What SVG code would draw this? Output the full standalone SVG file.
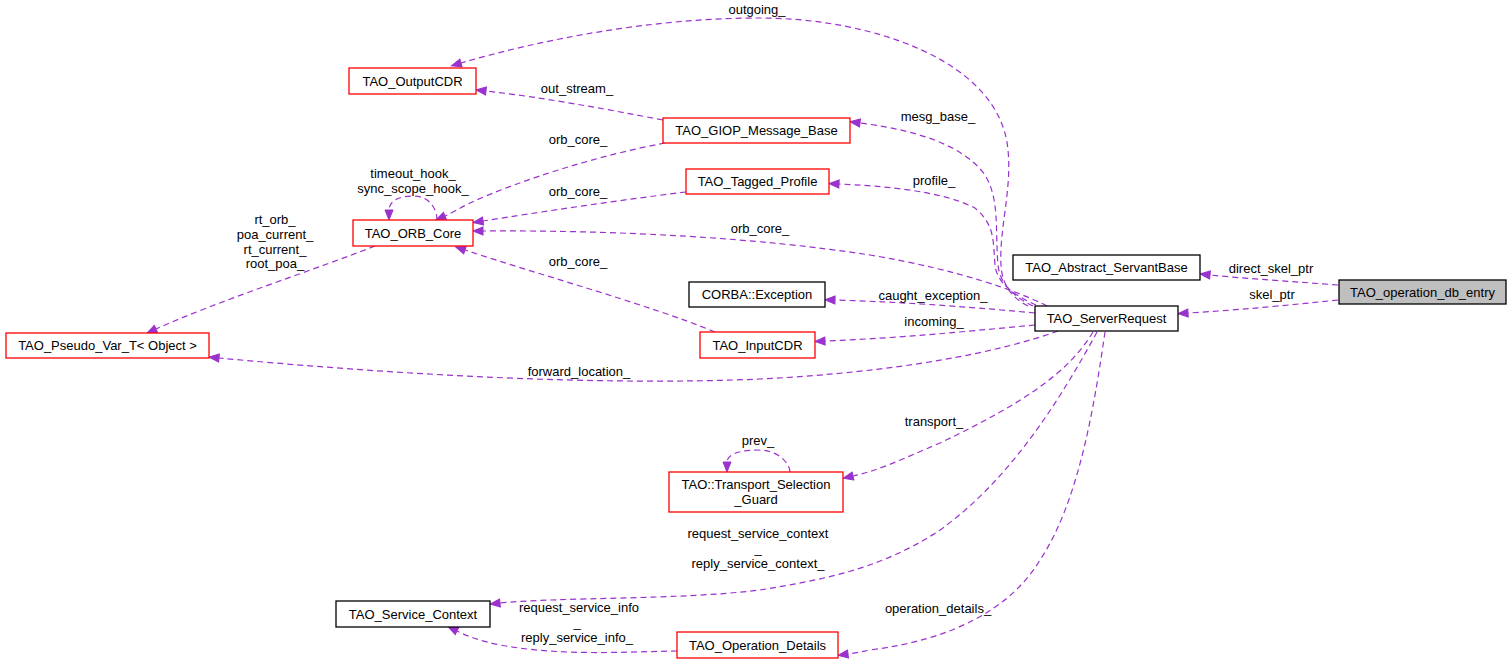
<svg xmlns="http://www.w3.org/2000/svg" width="1512" height="664" viewBox="0 0 1512 664">
<style>
text{font-family:"Liberation Sans",Arial,sans-serif;font-size:13px;fill:#000;text-anchor:middle}
.n rect{fill:#fff;stroke-width:1.3}
.red rect{stroke:#ff0000}
.blk rect{stroke:#000}
.cur rect{fill:#bfbfbf;stroke:#000}
.e path{fill:none;stroke:#9a32cd;stroke-width:1.2;stroke-dasharray:6,4;marker-end:url(#ah)}
</style>
<defs>
<marker id="ah" markerUnits="userSpaceOnUse" markerWidth="12" markerHeight="10" refX="0" refY="4" orient="auto" overflow="visible">
<path d="M0,0 L10,4 L0,8 z" fill="#9a32cd" stroke="#9a32cd" stroke-width="1"/>
</marker>
</defs>
<rect width="1512" height="664" fill="#fff"/>
<g id="edges" class="e">
<path d="M1028,306 C1012,298 1002,285 1001,265 C999,230 1012,190 1008,150 C1000,60 870,18 760,18 C650,18 540,40 461,63"/>
<path d="M1033,306 C1015,297 1000,285 998,265 C995,230 1000,200 985,175 C960,140 900,128 860,123"/>
<path d="M1036,305 C1018,297 997,285 995,265 C993,240 995,225 975,208 C940,190 880,186 839,184"/>
<path d="M1047,306 C1020,292 960,270 870,255 C760,238 620,230 483,231"/>
<path d="M1035,313 C960,306 900,302 835,300"/>
<path d="M1035,325 C960,332 900,338 825,341"/>
<path d="M1058,331 C1000,352 900,372 760,379 C600,386 400,375 219,358"/>
<path d="M1093,332 C1070,370 1030,400 940,443 C900,460 880,470 853,476"/>
<path d="M1097,332 C1060,400 1010,480 940,530 C880,570 820,580 760,590 C680,600 560,597 500,603"/>
<path d="M1105,332 C1095,400 1080,500 1040,560 C1010,610 950,640 870,650 C860,652 856,653 848,654"/>
<path d="M663,120 C600,108 540,97 486,91"/>
<path d="M665,143 C600,155 520,180 470,203 C458,209 452,213 445,216"/>
<path d="M686,192 C620,200 540,212 483,221"/>
<path d="M715,332 C650,305 540,275 465,250"/>
<path d="M437,220 C437,212 432,196 413,196 C396,196 389,203 389,210"/>
<path d="M790,472 C790,465 780,450 758,450 C738,450 727,455 727,462"/>
<path d="M375,246 C320,268 220,300 156,329"/>
<path d="M677,651 C620,652 560,656 500,645 C480,641 467,636 457,631"/>
<path d="M1338,285 C1300,282 1250,279 1210,275"/>
<path d="M1338,300 C1290,305 1240,310 1188,313"/>
</g>
<g id="edge-labels">
<text x="757" y="13.5">outgoing_</text>
<text x="577" y="93">out_stream_</text>
<text x="938" y="120.5">mesg_base_</text>
<text x="578" y="144">orb_core_</text>
<text x="578" y="195.5">orb_core_</text>
<text x="934" y="184.5">profile_</text>
<text x="413" y="177.5">timeout_hook_</text>
<text x="413" y="192.5">sync_scope_hook_</text>
<text x="275" y="224">rt_orb_</text>
<text x="275" y="239">poa_current_</text>
<text x="275" y="253.5">rt_current_</text>
<text x="275" y="268">root_poa_</text>
<text x="760" y="232.5">orb_core_</text>
<text x="578" y="265.5">orb_core_</text>
<text x="1271" y="272.5">direct_skel_ptr</text>
<text x="1272" y="298.5">skel_ptr</text>
<text x="933" y="299.5">caught_exception_</text>
<text x="934" y="325.5">incoming_</text>
<text x="579" y="375.5">forward_location_</text>
<text x="758" y="444.5">prev_</text>
<text x="934" y="425.5">transport_</text>
<text x="758" y="537.5">request_service_context</text>
<text x="758" y="552.5">_</text>
<text x="758" y="567.5">reply_service_context_</text>
<text x="579" y="611.5">request_service_info</text>
<text x="577" y="626.5">_</text>
<text x="577" y="641.5">reply_service_info_</text>
<text x="938" y="612.5">operation_details_</text>
</g>
<g id="TAO_OutputCDR" class="n red"><rect x="349" y="68" width="127" height="26"/><text x="412.5" y="85.5">TAO_OutputCDR</text></g>
<g id="TAO_GIOP_Message_Base" class="n red"><rect x="663" y="118" width="187" height="25"/><text x="756.5" y="135">TAO_GIOP_Message_Base</text></g>
<g id="TAO_Tagged_Profile" class="n red"><rect x="686" y="169" width="143" height="25"/><text x="757.5" y="186">TAO_Tagged_Profile</text></g>
<g id="TAO_ORB_Core" class="n red"><rect x="353" y="220" width="120" height="26"/><text x="413" y="237.5">TAO_ORB_Core</text></g>
<g id="TAO_Pseudo_Var_T" class="n red"><rect x="6" y="333" width="203" height="25"/><text x="107.5" y="350">TAO_Pseudo_Var_T&lt; Object &gt;</text></g>
<g id="CORBA_Exception" class="n blk"><rect x="689" y="282" width="136" height="25"/><text x="757" y="299">CORBA::Exception</text></g>
<g id="TAO_InputCDR" class="n red"><rect x="700" y="332" width="115" height="26"/><text x="757.5" y="349.5">TAO_InputCDR</text></g>
<g id="TAO_Abstract_ServantBase" class="n blk"><rect x="1013" y="255" width="187" height="25"/><text x="1106.5" y="272">TAO_Abstract_ServantBase</text></g>
<g id="TAO_ServerRequest" class="n blk"><rect x="1035" y="306" width="143" height="25"/><text x="1106.5" y="323">TAO_ServerRequest</text></g>
<g id="TAO_operation_db_entry" class="n cur"><rect x="1339" y="280" width="167" height="24"/><text x="1422.5" y="296.5">TAO_operation_db_entry</text></g>
<g id="TAO_Transport_Selection_Guard" class="n red"><rect x="669" y="472" width="174" height="40"/><text x="756" y="489">TAO::Transport_Selection</text><text x="756" y="504">_Guard</text></g>
<g id="TAO_Service_Context" class="n blk"><rect x="336" y="601" width="154" height="26"/><text x="413" y="618.5">TAO_Service_Context</text></g>
<g id="TAO_Operation_Details" class="n red"><rect x="677" y="632" width="161" height="26"/><text x="757.5" y="649.5">TAO_Operation_Details</text></g>
</svg>
